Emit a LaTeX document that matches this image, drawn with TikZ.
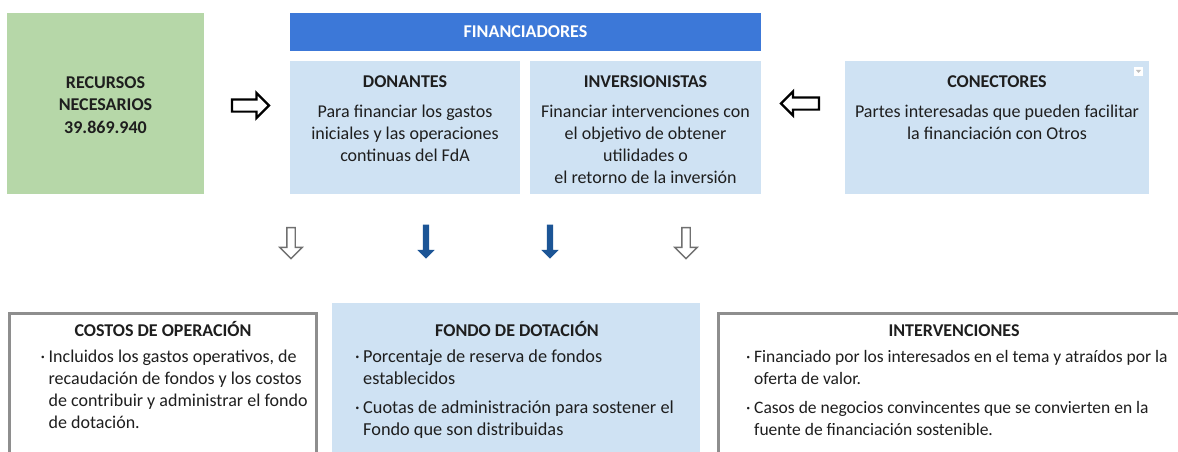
\documentclass[tikz,border=0pt]{standalone}
\usepackage{fontspec}
\setmainfont{Carlito}
\usetikzlibrary{shapes.arrows}
\definecolor{greenbox}{HTML}{B6D7A8}
\definecolor{lightblue}{HTML}{CFE2F3}
\definecolor{headblue}{HTML}{3C78D8}
\definecolor{arrblue}{HTML}{1C5596}
\definecolor{framegray}{HTML}{8E8E8E}
\definecolor{outgray}{HTML}{707070}
\definecolor{txt}{HTML}{1E1E1E}
\begin{document}
\begin{tikzpicture}[x=1pt,y=-1pt,
  boxbase/.style={anchor=north west,inner sep=0pt,outer sep=0pt},
  fillbox/.style={boxbase,fill=#1,draw=none},
  framebox/.style={boxbase,fill=white,draw=framegray,line width=3pt},
  bodyfont/.style={font=\fontsize{18}{22}\selectfont,text=txt},
  titlefont/.style={font=\bfseries\fontsize{18}{22}\selectfont,text=txt},
  tline/.style={titlefont,anchor=base,inner sep=0pt},
  cline/.style={bodyfont,anchor=base,inner sep=0pt,align=center},
  bline/.style={bodyfont,anchor=base west,inner sep=0pt,align=left,font=\fontsize{#1}{22}\selectfont},
  outarrow/.style={single arrow,draw=#1,fill=white,inner xsep=0pt,minimum width=0pt},
  blockarrow/.style={single arrow,fill=arrblue,draw=none,inner xsep=0pt},
]
\useasboundingbox (0,0) rectangle (1178,452);
\fill[white] (0,0) rectangle (1178,452);

% top boxes
\node[fillbox=greenbox,minimum width=197pt,minimum height=181pt] (rec) at (7,13) {};
\node[fillbox=headblue,minimum width=471pt,minimum height=38pt] (fin) at (290,13) {};
\node[fillbox=lightblue,minimum width=230pt,minimum height=133pt] (don) at (290,61) {};
\node[fillbox=lightblue,minimum width=231pt,minimum height=133pt] (inv) at (530,61) {};
\node[fillbox=lightblue,minimum width=304pt,minimum height=133pt] (con) at (845,61) {};

% dropdown icon
\node[boxbase,fill=white,minimum width=9pt,minimum height=9pt] (icon) at (1134,67) {};
\fill[gray!50] (1136,70) -- (1141,70) -- (1138.5,73) -- cycle;

% bottom boxes
\node[framebox,minimum width=307pt,minimum height=160pt] (cos) at (9.5,313.5) {};
\node[fillbox=lightblue,minimum width=368pt,minimum height=160pt] (fon) at (332,303) {};
\node[framebox,minimum width=480pt,minimum height=160pt] (int) at (718.5,313.5) {};

% texts top (multi-line nodes: base = baseline of last line)
\node[tline,align=center,font=\bfseries\fontsize{18}{22.5}\selectfont] (trec) at (105.5,133) {RECURSOS\\NECESARIOS\\39.869.940};
\node[tline,text=white] (tfin) at (525.5,38) {FINANCIADORES};
\node[tline] (tdon) at (405,88) {DONANTES};
\node[cline] (bdon) at (405,161) {Para financiar los gastos\\iniciales y las operaciones\\continuas del FdA};
\node[tline] (tinv) at (645.5,88) {INVERSIONISTAS};
\node[cline] (binv) at (645.5,183) {Financiar intervenciones con\\el objetivo de obtener\\utilidades o\\el retorno de la inversión};
\node[tline] (tcon) at (997,88) {CONECTORES};
\node[cline] (bcon) at (997,139) {Partes interesadas que pueden facilitar\\la financiación con Otros};

% texts bottom
\node[tline] (tcos) at (163,336) {COSTOS DE OPERACIÓN};
\node[bline=18] (bcos) at (40.5,428) {\makebox[8pt][l]{·}Incluidos los gastos operativos, de\\\hspace*{8pt}recaudación de fondos y los costos\\\hspace*{8pt}de contribuir y administrar el fondo\\\hspace*{8pt}de dotación.};
\node[tline] (tfon) at (517,336) {FONDO DE DOTACIÓN};
\node[bline=18.3] (bfon) at (355,435) {\makebox[8pt][l]{·}Porcentaje de reserva de fondos\\\hspace*{8pt}establecidos\\[7pt]\makebox[8pt][l]{·}Cuotas de administración para sostener el\\\hspace*{8pt}Fondo que son distribuidas};
\node[tline] (tint) at (954,336) {INTERVENCIONES};
\node[bline=17.5] (bint) at (746,435) {\makebox[8pt][l]{·}Financiado por los interesados en el tema y atraídos por la\\\hspace*{8pt}oferta de valor.\\[7pt]\makebox[8pt][l]{·}Casos de negocios convincentes que se convierten en la\\\hspace*{8pt}fuente de financiación sostenible.};

% arrows
\node[outarrow=black,line width=2.2pt,minimum height=37pt,inner ysep=5pt,single arrow head extend=6.5pt] (arr) at (247.5,105.5) {};
\node[outarrow=black,line width=2.2pt,minimum height=38pt,inner ysep=5pt,single arrow head extend=6pt,rotate=180] (arl) at (803,103.5) {};
\node[outarrow=outgray,line width=1.4pt,minimum height=31pt,inner ysep=3.5pt,single arrow head extend=7pt,rotate=-90] (ad1) at (291,241) {};
\node[blockarrow,minimum height=34pt,inner ysep=3pt,single arrow head extend=5.5pt,rotate=-90] (ad2) at (426,240) {};
\node[blockarrow,minimum height=34pt,inner ysep=3pt,single arrow head extend=5.5pt,rotate=-90] (ad3) at (550,240) {};
\node[outarrow=outgray,line width=1.4pt,minimum height=31pt,inner ysep=3.5pt,single arrow head extend=7pt,rotate=-90] (ad4) at (686,241) {};
\end{tikzpicture}
\end{document}
